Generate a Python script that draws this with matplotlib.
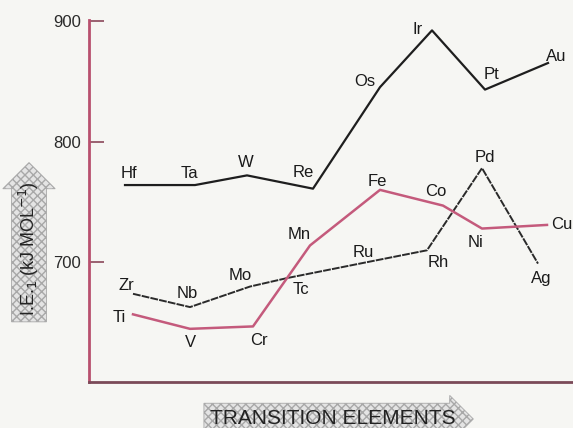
"""I.E.1 of transition elements — recreated chart"""
import matplotlib
matplotlib.use('Agg')
import matplotlib.pyplot as plt

plt.rcParams['font.family'] = ['Liberation Sans', 'DejaVu Sans']

# === data (x = position along the element axis, y = I.E.1 in kJ/mol) ===
el_5d = ['Hf', 'Ta', 'W', 'Re', 'Os', 'Ir', 'Pt', 'Au']
x_5d = [36, 106, 158, 224, 291, 343, 396, 459]
y_5d = [764, 764, 772, 761, 845, 892, 843, 865]

el_4d = ['Zr', 'Nb', 'Mo', 'Tc', 'Ru', 'Rh', 'Pd', 'Ag']
x_4d = [44, 101, 161, 198, 283, 338, 393, 449]
y_4d = [674, 663, 680, 687, 701, 710, 778, 699]

el_3d = ['Ti', 'V', 'Cr', 'Mn', 'Fe', 'Co', 'Ni', 'Cu']
x_3d = [44, 101, 164, 221, 291, 354, 393, 458]
y_3d = [657, 645, 647, 714, 760, 747, 728, 731]

yticks = [700, 800, 900]

# label offsets in points (dx, dy) from each vertex
off_5d = [(3, 8), (-4, 8), (-1, 9), (-7, 12), (-11, 4), (-10, 1), (5, 11), (6, 5)]
off_4d = [(-5, 6), (-2, 10), (-7, 8), (10, -8), (-6, 6), (8, -9), (2, 8), (2, -11)]
off_3d = [(-10, -2), (0, -10), (4, -10), (-8, 8), (-2, 6), (-5, 10), (-5, -10), (11, 0)]

BLACK = '#1e1e1e'
PINK = '#c45a7c'
AXIS_PINK = '#b8506e'
BG = '#f6f6f3'

fig = plt.figure(figsize=(5.73, 4.28), dpi=100, facecolor=BG)
ax = fig.add_axes([89 / 573, 1 - 382 / 428, 484 / 573, 362 / 428])
ax.set_facecolor(BG)

ax.plot(x_5d, y_5d, color=BLACK, lw=1.6)
ax.plot(x_4d, y_4d, color='#2a2a2a', lw=1.4, ls=(0, (4, 0.6)))
ax.plot(x_3d, y_3d, color=PINK, lw=1.8)

for els, xs, ys, offs in [(el_5d, x_5d, y_5d, off_5d),
                          (el_4d, x_4d, y_4d, off_4d),
                          (el_3d, x_3d, y_3d, off_3d)]:
    for e, x, y, (dx, dy) in zip(els, xs, ys, offs):
        ax.annotate(e, (x, y), xytext=(dx, dy), textcoords='offset points',
                    ha='center', va='center', fontsize=12, color='#1a1a1a')

ax.set_xlim(0, 484)
ax.set_ylim(601, 900.6)
ax.set_xticks([])
ax.set_yticks(yticks)
ax.tick_params(axis='y', direction='in', length=11, width=1.4,
               colors='#9a6070', labelsize=12, labelcolor='#2a2a2a', pad=6)
for s in ['top', 'right']:
    ax.spines[s].set_visible(False)
ax.spines['left'].set_color(AXIS_PINK)
ax.spines['left'].set_linewidth(2)
ax.spines['bottom'].set_color('#7a4a58')
ax.spines['bottom'].set_linewidth(2)

# axis titles in hatched arrow boxes
arrow_box = dict(boxstyle='rarrow,pad=0.3', fc='#e4e4e4', ec='#a8a8a8',
                 hatch='xxxx', lw=0.6)
fig.text(29 / 573, 1 - 249 / 428, 'I.E.$_1$ (kJ MOL$^{-1}$)', rotation=90,
         ha='center', va='center', fontsize=13, color='#222222', bbox=arrow_box)
fig.text(333 / 573, 1 - 419 / 428, 'TRANSITION ELEMENTS',
         ha='center', va='center', fontsize=15, color='#222222', bbox=arrow_box)

fig.savefig('out.png', dpi=100, facecolor=BG)
